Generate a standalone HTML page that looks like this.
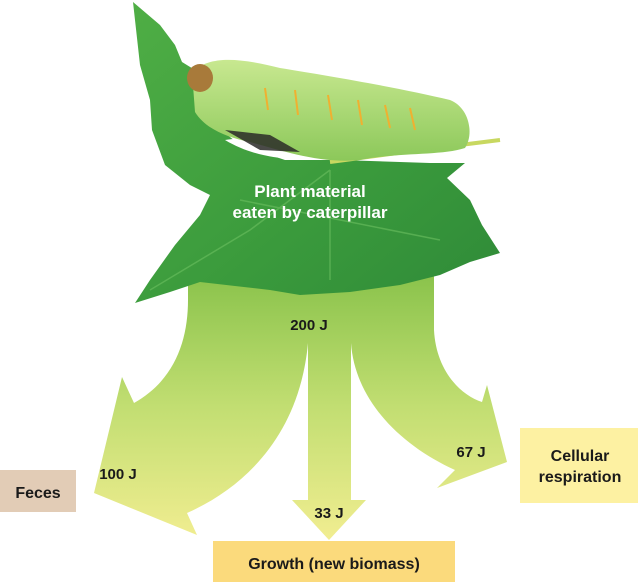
<!DOCTYPE html>
<html><head><meta charset="utf-8"><style>
html,body{margin:0;padding:0;background:#fff;}
svg{display:block;}
text{font-family:"Liberation Sans",Arial,sans-serif;font-weight:bold;}
</style></head><body>
<svg width="638" height="582" viewBox="0 0 638 582" xmlns="http://www.w3.org/2000/svg">
<defs>
<linearGradient id="ag" gradientUnits="userSpaceOnUse" x1="0" y1="270" x2="0" y2="545">
<stop offset="0" stop-color="#88c24a"/>
<stop offset="0.5" stop-color="#c2de72"/>
<stop offset="1" stop-color="#f3ee92"/>
</linearGradient>
<linearGradient id="lg" x1="0" y1="0" x2="1" y2="1">
<stop offset="0" stop-color="#4fae45"/>
<stop offset="0.6" stop-color="#3a9a3c"/>
<stop offset="1" stop-color="#2f8a38"/>
</linearGradient>
<linearGradient id="cg" x1="0" y1="0" x2="0" y2="1">
<stop offset="0" stop-color="#c8e890"/>
<stop offset="1" stop-color="#8cc85a"/>
</linearGradient>
</defs>
<path d="M188,260 L434,260 L434,330 C436,370 460,395 482,402 L487,385 L507,462 L437,488 L455,470 C400,445 355,400 351,343 L351,500 L366,500 L329,540 L292,500 L308,500 L308,343 C300,430 250,485 187,513 L197,535 L94,493 L122,377 L134,403 C175,380 188,340 188,300 Z" fill="url(#ag)"/>
<path d="M133,2 L160,25 L175,45 L182,62 L195,70 L200,100 L215,125 L240,145 L285,160 L340,160 L430,163 L465,163 L447,178 L470,200 L482,225 L500,253 L470,262 L440,275 L400,285 L350,292 L300,295 L270,290 L235,286 L200,282 L170,292 L135,303 L150,280 L175,245 L200,215 L210,195 L190,185 L165,165 L152,130 L150,100 L140,65 Z" fill="url(#lg)"/>
<path d="M150,290 L250,230 L330,170 M240,200 L440,240 M330,170 L330,280" stroke="#6cc060" stroke-width="1.5" fill="none" opacity="0.6"/>
<path d="M225,140 C250,155 280,160 300,158 C285,148 255,135 225,140 Z" fill="#fff"/>
<path d="M330,162 L420,150 L500,140" stroke="#c8d860" stroke-width="4" fill="none"/>
<path d="M192,72 C210,55 240,58 280,68 C330,76 400,88 450,100 C470,108 474,135 465,148 C440,156 400,152 360,160 C320,164 280,150 250,142 C225,137 205,128 195,112 Z" fill="url(#cg)"/>
<path d="M225,130 L260,150 L300,152 L270,135 Z" fill="#2a2a28" opacity="0.85"/>
<ellipse cx="200" cy="78" rx="13" ry="14" fill="#a87a3a"/>
<g stroke="#f0b030" stroke-width="2"><line x1="265" y1="88" x2="268" y2="110"/><line x1="295" y1="90" x2="298" y2="115"/><line x1="328" y1="95" x2="332" y2="120"/><line x1="358" y1="100" x2="362" y2="125"/><line x1="385" y1="105" x2="390" y2="128"/><line x1="410" y1="108" x2="415" y2="130"/></g>
<text x="310" y="197" fill="#fff" font-size="17" text-anchor="middle">Plant material</text>
<text x="310" y="218" fill="#fff" font-size="17" text-anchor="middle">eaten by caterpillar</text>
<text x="309" y="330" font-size="15" text-anchor="middle" fill="#1a1a1a">200 J</text>
<text x="118" y="479" font-size="15" text-anchor="middle" fill="#1a1a1a">100 J</text>
<text x="329" y="518" font-size="15" text-anchor="middle" fill="#1a1a1a">33 J</text>
<text x="471" y="457" font-size="15" text-anchor="middle" fill="#1a1a1a">67 J</text>
<rect x="0" y="470" width="76" height="42" fill="#e2ccb6"/>
<text x="38" y="498" font-size="16" text-anchor="middle" fill="#1a1a1a">Feces</text>
<rect x="520" y="428" width="118" height="75" fill="#fdf1a2"/>
<text x="580" y="461" font-size="16" text-anchor="middle" fill="#1a1a1a">Cellular</text>
<text x="580" y="482" font-size="16" text-anchor="middle" fill="#1a1a1a">respiration</text>
<rect x="213" y="541" width="242" height="41" fill="#fbda7c"/>
<text x="334" y="569" font-size="16" text-anchor="middle" fill="#1a1a1a">Growth (new biomass)</text>
</svg>
</body></html>
